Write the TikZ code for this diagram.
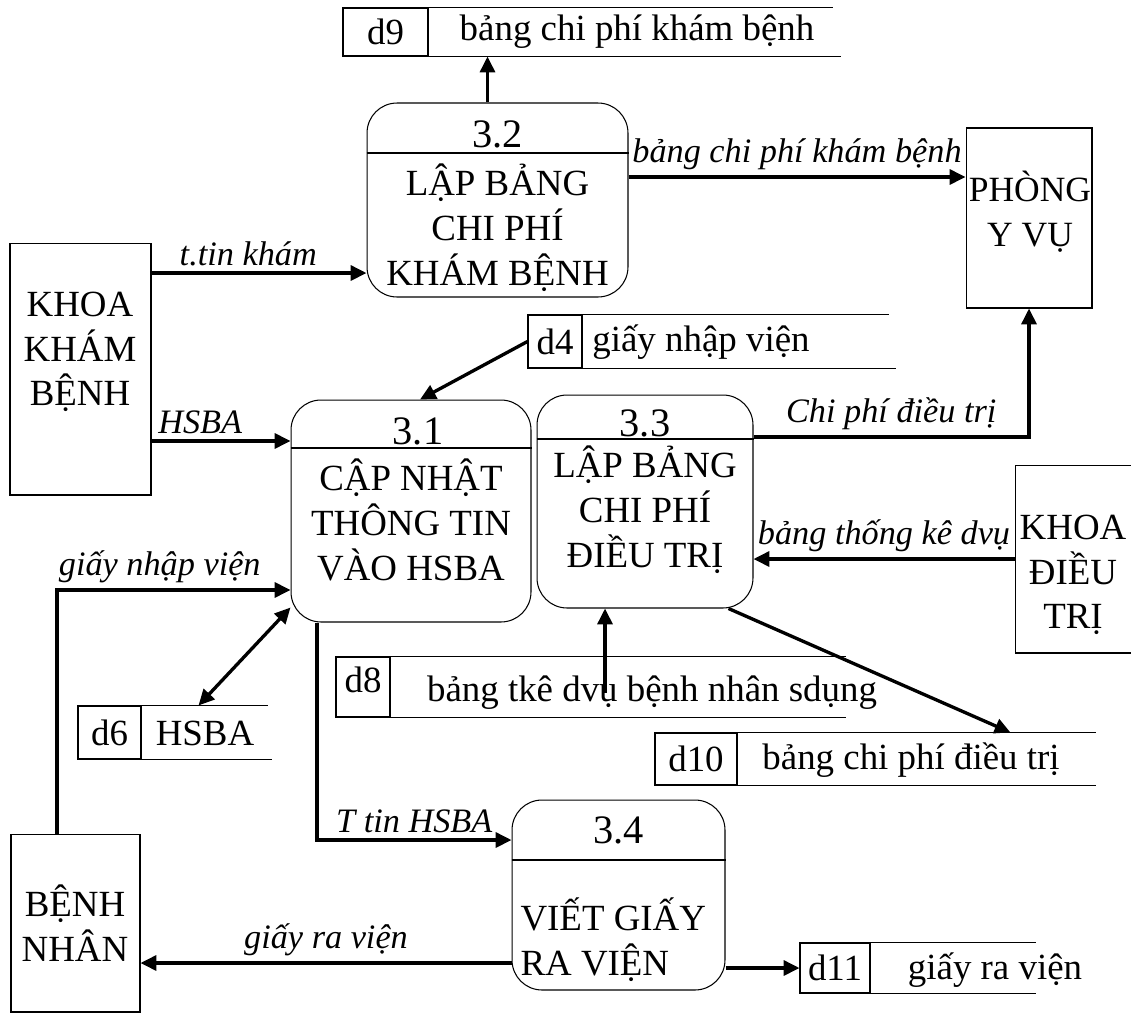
\documentclass[tikz,border=0pt]{standalone}
\usepackage{fontspec}
\setmainfont{Liberation Serif}
\usetikzlibrary{arrows.meta}

\begin{document}
\begin{tikzpicture}[x=0.02cm, y=-0.02cm, line width=0.6pt,
  proc/.style={draw, rounded corners=0.6cm, inner sep=0pt},
  ext/.style={draw, inner sep=0pt},
  idcell/.style={draw, inner sep=0pt, font=\fontsize{21}{25}\selectfont},
  big/.style={font=\fontsize{21}{25.5}\selectfont, align=center, inner sep=0pt},
  num/.style={font=\fontsize{23}{26}\selectfont, inner sep=0pt},
  lbl/.style={font=\fontsize{19.5}{23}\selectfont\itshape, inner sep=3pt},
  flow/.style={line width=1.9pt, -{Triangle[length=9pt,width=8.5pt]}},
  both/.style={line width=1.9pt, {Triangle[length=9pt,width=8.5pt]}-{Triangle[length=9pt,width=8.5pt]}}]

\useasboundingbox (0,0) rectangle (1131,1021);

% external entities
\node[ext, minimum width=2.82cm, minimum height=5.04cm] (kkb) at (80.5,369) {};
\node[big] (kkbT) at (80,352) {KHOA\\KHÁM\\BỆNH};
\node[ext, minimum width=2.52cm, minimum height=3.6cm] (pyv) at (1029,218) {};
\node[big, font=\fontsize{20.2}{25.5}\selectfont] (pyvT) at (1030,212) {PHÒNG\\Y VỤ};
\node[ext, minimum width=2.7cm, minimum height=3.76cm] (kdt) at (1082.5,559) {};
\node[big] (kdtT) at (1073,575) {KHOA\\ĐIỀU\\TRỊ};
\node[ext, minimum width=2.58cm, minimum height=3.56cm] (bn) at (75.5,923) {};
\node[big] (bnT) at (75,923) {BỆNH\\NHÂN};

% processes
\node[proc, minimum width=5.22cm, minimum height=3.88cm] (p32) at (497.5,200) {};
\draw (p32.west |- 0,153) -- (p32.east |- 0,153);
\node[num] (n32) at (497.5,134) {3.2};
\node[big] (t32) at (497.5,228) {LẬP BẢNG\\CHI PHÍ\\KHÁM BỆNH};

\node[proc, minimum width=4.8cm, minimum height=4.44cm] (p31) at (411,511) {};
\draw (p31.west |- 0,448) -- (p31.east |- 0,448);
\node[num] (n31) at (418,431) {3.1};
\node[big] (t31) at (411,520) {CẬP NHẬT\\THÔNG TIN\\VÀO HSBA};

\node[proc, minimum width=4.32cm, minimum height=4.26cm] (p33) at (645,501.5) {};
\draw (p33.west |- 0,439) -- (p33.east |- 0,439);
\node[num] (n33) at (645,423) {3.3};
\node[big] (t33) at (645,510) {LẬP BẢNG\\CHI PHÍ\\ĐIỀU TRỊ};

\node[proc, minimum width=4.26cm, minimum height=3.8cm] (p34) at (618.5,895) {};
\draw (p34.west |- 0,860) -- (p34.east |- 0,860);
\node[num] (n34) at (618.5,830) {3.4};
\node[big, align=left, anchor=west] (t34) at (520,940) {VIẾT GIẤY\\RA VIỆN};

% data stores
\node[idcell, minimum width=1.7cm, minimum height=0.96cm] (d9) at (385.5,32) {d9};
\draw (d9.north east) -- ++(404,0);
\draw (d9.south east) -- ++(412,0);
\node[big] (d9t) at (637,32) {bảng chi phí khám bệnh};

\node[idcell, minimum width=1.08cm, minimum height=1.06cm] (d4) at (555,341.5) {d4};
\draw (d4.north east) -- ++(306,0);
\draw (d4.south east) -- ++(313,0);
\node[big] (d4t) at (701,342) {giấy nhập viện};

\node[idcell, minimum width=1.26cm, minimum height=1.06cm] (d6) at (109.5,732.5) {d6};
\draw (d6.north east) -- ++(126,0);
\draw (d6.south east) -- ++(130,0);
\node[big] (d6t) at (205,733) {HSBA};

\node[idcell, minimum width=1.08cm, minimum height=1.2cm, text depth=8pt] (d8) at (363,687) {d8};
\draw (d8.north east) -- ++(455,0);
\draw (d8.south east) -- ++(455,0);
\node[big] (d8t) at (652,693) {bảng tkê dvụ bệnh nhân sdụng};

\node[idcell, minimum width=1.64cm, minimum height=1.04cm] (d10) at (696,759) {d10};
\draw (d10.north east) -- ++(358,0);
\draw (d10.south east) -- ++(358,0);
\node[big] (d10t) at (911,760) {bảng chi phí điều trị};

\node[idcell, minimum width=1.4cm, minimum height=1.0cm] (d11) at (835,968) {d11};
\draw (d11.north east) -- ++(165,0);
\draw (d11.south east) -- ++(165,0);
\node[big] (d11t) at (995,970) {giấy ra viện};

% data flows
\draw[flow] ([xshift=-0.2cm]p32.north) -- ([xshift=-0.2cm]p32.north |- d9.south);
\draw[flow] ([yshift=0.46cm]p32.east) -- ([yshift=0.46cm]p32.east -| pyv.west)
  node[lbl, midway, above] {bảng chi phí khám bệnh};
\draw[flow] ([yshift=1.92cm]kkb.east) -- ([yshift=1.92cm]kkb.east -| p32.west)
  node[lbl, pos=0.45, above] {t.tin khám};
\draw[flow] ([yshift=-1.44cm]kkb.east) -- ([yshift=-1.44cm]kkb.east -| p31.west)
  node[lbl, pos=0.35, above] {HSBA};
\draw[flow] (d4.west) -- ([xshift=0.18cm]p31.north);
\draw[both] ([yshift=0.3cm]p31.south west) -- ([xshift=1.14cm]d6.north east);
\draw[flow] ([xshift=-0.37cm]bn.north) |- ([yshift=-1.58cm]p31.west)
  node[lbl, pos=0.72, above] {giấy nhập viện};
\draw[flow] ([xshift=-1.88cm]p31.south) |- ([yshift=1.1cm]p34.west)
  node[lbl, pos=0.75, above] {T tin HSBA};
\draw[flow] ([yshift=1.29cm]p33.east) -| (pyv.south)
  node[lbl, pos=0.25, above] {Chi phí điều trị};
\draw[flow] (kdt.west) -- (kdt.west -| p33.east)
  node[lbl, midway, above] {bảng thống kê dvụ};
\draw[flow] ([xshift=-0.8cm]p33.south |- d8t.center) -- ([xshift=-0.8cm]p33.south);
\draw[flow] ([xshift=-0.5cm]p33.south east) -- ([xshift=5.46cm]d10.north east);
\draw[flow] ([yshift=-1.36cm]p34.west) -- ([yshift=-1.36cm]p34.west -| bn.east)
  node[lbl, midway, above] {giấy ra viện};
\draw[flow] (d11.west -| p34.east) -- (d11.west);

\end{tikzpicture}
\end{document}
